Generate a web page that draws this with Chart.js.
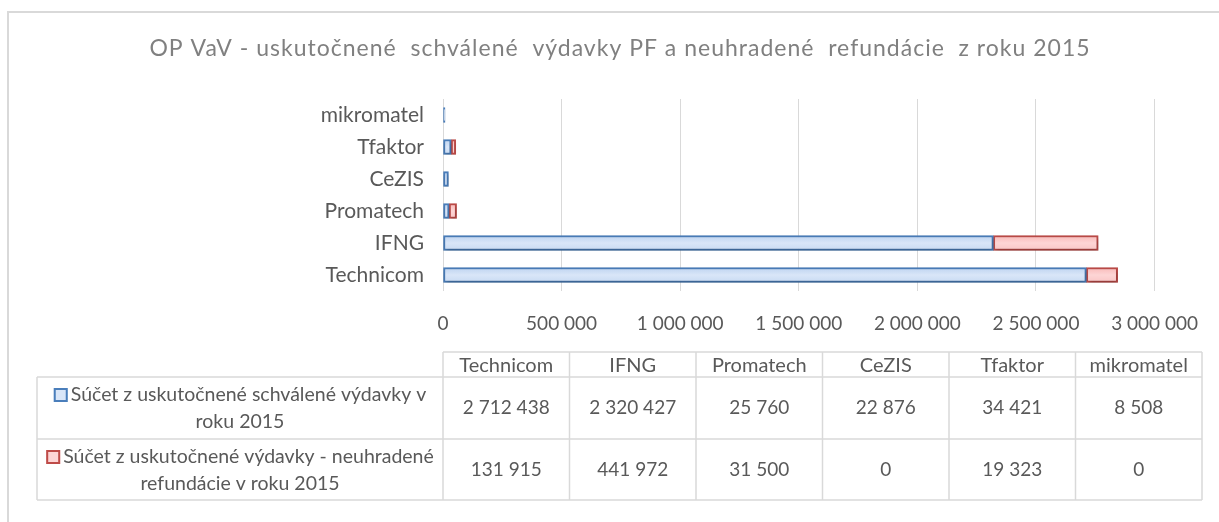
<!DOCTYPE html>
<html>
<head>
<meta charset="utf-8">
<script src="https://cdn.jsdelivr.net/npm/chart.js@4/dist/chart.umd.min.js"></script>
<style>
    html, body { margin: 0; padding: 0; background: #fff; }
    #wrap { width: 1219px; height: 522px; position: relative; }
</style>
</head>
<body>
<div id="wrap"><canvas id="chart"></canvas></div>
<script>
// Data
const categories = ['Technicom', 'IFNG', 'Promatech', 'CeZIS', 'Tfaktor', 'mikromatel'];
const approved = [2712438, 2320427, 25760, 22876, 34421, 8508];
const unpaid = [131915, 441972, 31500, 0, 19323, 0];
const seriesNames = [
    ['Súčet z uskutočnené schválené výdavky v', 'roku 2015'],
    ['Súčet z uskutočnené výdavky - neuhradené', 'refundácie v roku 2015']
];
const xTicks = [0, 500000, 1000000, 1500000, 2000000, 2500000, 3000000];
const chartTitle = 'OP VaV - uskutočnené  schválené  výdavky PF a neuhradené  refundácie  z roku 2015';

const FONT = "Lato, 'Open Sans', sans-serif";
const TEXT = '#595959';
const GRID = '#d9d9d9';
const BLUE = { border: '#4a7ebb', top: '#bdd3f0', mid: '#d9e6f8', bottom: '#c8daf3' };
const RED = { border: '#be4b48', top: '#f8b9b8', mid: '#fdd5d5', bottom: '#f9c6c6' };

// thousands separated with a space
function fmt(n) {
    return String(n).replace(/\B(?=(\d{3})+(?!\d))/g, ' ');
}

// vertical gradient repeated for every bar row, placed from the y scale
function barFill(chart, col, thickness) {
    const y = chart.scales.y;
    const area = chart.chartArea;
    if (!y || !area) return col.mid;
    const g = chart.ctx.createLinearGradient(0, area.top, 0, area.bottom);
    const h = area.bottom - area.top;
    const stops = [];
    categories.forEach((_, i) => {
        const c = y.getPixelForValue(i);
        stops.push([c - thickness / 2, col.top], [c, col.mid], [c + thickness / 2, col.bottom]);
    });
    stops.sort((a, b) => a[0] - b[0]);
    stops.forEach(([p, color]) => {
        g.addColorStop(Math.min(1, Math.max(0, (p - area.top) / h)), color);
    });
    return g;
}

// outer frame and title (only top and left frame edges are visible)
const framePlugin = {
    id: 'frame',
    beforeDraw(chart) {
        const ctx = chart.ctx;
        ctx.save();
        ctx.strokeStyle = GRID;
        ctx.lineWidth = 2;
        ctx.strokeRect(8, 12, 1400, 800);
        ctx.fillStyle = '#808080';
        ctx.font = '23px ' + FONT;
        ctx.letterSpacing = '1px';
        ctx.textAlign = 'center';
        ctx.textBaseline = 'middle';
        ctx.fillText(chartTitle, 620, 49);
        ctx.restore();
    }
};

// soft shadow under the bars
const shadowPlugin = {
    id: 'barShadow',
    beforeDatasetsDraw(chart) {
        const ctx = chart.ctx;
        ctx.save();
        ctx.shadowColor = 'rgba(0,0,0,0.28)';
        ctx.shadowBlur = 4;
        ctx.shadowOffsetX = 1;
        ctx.shadowOffsetY = 2;
    },
    afterDatasetsDraw(chart) {
        chart.ctx.restore();
    }
};

// data table below the axis
const tablePlugin = {
    id: 'dataTable',
    afterDraw(chart) {
        const ctx = chart.ctx;
        const left = chart.chartArea.left;
        const right = 1202;
        const legendLeft = 37;
        const colW = (right - left) / categories.length;
        const rows = [352, 377, 439, 500];
        const series = [approved, unpaid];
        const colors = [BLUE, RED];

        ctx.save();
        ctx.strokeStyle = GRID;
        ctx.lineWidth = 1.5;

        // horizontal lines
        ctx.beginPath();
        ctx.moveTo(left, rows[0]); ctx.lineTo(right, rows[0]);
        for (let i = 1; i < rows.length; i++) {
            ctx.moveTo(legendLeft, rows[i]); ctx.lineTo(right, rows[i]);
        }
        // vertical lines
        ctx.moveTo(legendLeft, rows[1]); ctx.lineTo(legendLeft, rows[3]);
        for (let c = 0; c <= categories.length; c++) {
            const x = left + c * colW;
            ctx.moveTo(x, rows[0]); ctx.lineTo(x, rows[3]);
        }
        ctx.stroke();

        ctx.fillStyle = TEXT;
        ctx.textAlign = 'center';
        ctx.textBaseline = 'middle';

        // header
        ctx.font = '20px ' + FONT;
        categories.forEach((name, c) => {
            ctx.fillText(name, left + (c + 0.5) * colW, (rows[0] + rows[1]) / 2 + 1);
        });

        // values
        ctx.font = '19px ' + FONT;
        series.forEach((vals, r) => {
            const y = (rows[r + 1] + rows[r + 2]) / 2;
            vals.forEach((v, c) => {
                ctx.fillText(fmt(v), left + (c + 0.5) * colW, y);
            });
        });

        // legend cells
        ctx.font = '19.5px ' + FONT;
        const cx = (legendLeft + left) / 2;
        seriesNames.forEach((lines, r) => {
            const top = rows[r + 1];
            const y1 = top + 18;
            const y2 = top + 45;
            const keySize = 14;
            const w1 = ctx.measureText(lines[0]).width;
            const total = keySize + 3 + w1;
            const x0 = cx - total / 2;
            ctx.fillStyle = colors[r].mid;
            ctx.fillRect(x0, y1 - keySize / 2, keySize, keySize);
            ctx.strokeStyle = colors[r].border;
            ctx.lineWidth = 2;
            ctx.strokeRect(x0 + 1, y1 - keySize / 2 + 1, keySize - 2, keySize - 2);
            ctx.fillStyle = TEXT;
            ctx.textAlign = 'left';
            ctx.fillText(lines[0], x0 + keySize + 3, y1);
            ctx.textAlign = 'center';
            ctx.fillText(lines[1], cx, y2);
        });
        ctx.restore();
    }
};

const BAR = 15;
const ctx = document.getElementById('chart').getContext('2d');
const chart = new Chart(ctx, {
    type: 'bar',
    data: {
        labels: categories,
        datasets: [{
            label: seriesNames[0].join(' '),
            data: approved,
            backgroundColor: (c) => barFill(c.chart, BLUE, BAR),
            borderColor: BLUE.border,
            borderWidth: 2,
            borderSkipped: false,
            barThickness: BAR
        }, {
            label: seriesNames[1].join(' '),
            data: unpaid,
            backgroundColor: (c) => barFill(c.chart, RED, BAR),
            borderColor: RED.border,
            borderWidth: 2,
            borderSkipped: false,
            barThickness: BAR
        }]
    },
    options: {
        indexAxis: 'y',
        responsive: true,
        maintainAspectRatio: false,
        animation: false,
        layout: {
            padding: { left: 0, right: 62, top: 99, bottom: 171 }
        },
        plugins: {
            legend: { display: false },
            tooltip: { enabled: false },
            title: { display: false }
        },
        scales: {
            x: {
                stacked: true,
                min: 0,
                max: 3000000,
                afterBuildTicks: (scale) => {
                    scale.ticks = xTicks.map(v => ({ value: v }));
                },
                afterFit: (scale) => { scale.height = 60; },
                grid: { color: GRID, lineWidth: 1, drawTicks: false },
                border: { display: false },
                ticks: {
                    color: TEXT,
                    font: { family: FONT, size: 19 },
                    padding: 21,
                    maxRotation: 0,
                    callback: (v) => fmt(v)
                }
            },
            y: {
                stacked: true,
                reverse: true,
                afterFit: (scale) => { scale.width = 443; },
                grid: { display: false, drawTicks: false },
                border: { display: false },
                ticks: {
                    color: TEXT,
                    font: { family: FONT, size: 21 },
                    padding: 19
                }
            }
        }
    },
    plugins: [framePlugin, shadowPlugin, tablePlugin]
});
</script>
</body>
</html>
